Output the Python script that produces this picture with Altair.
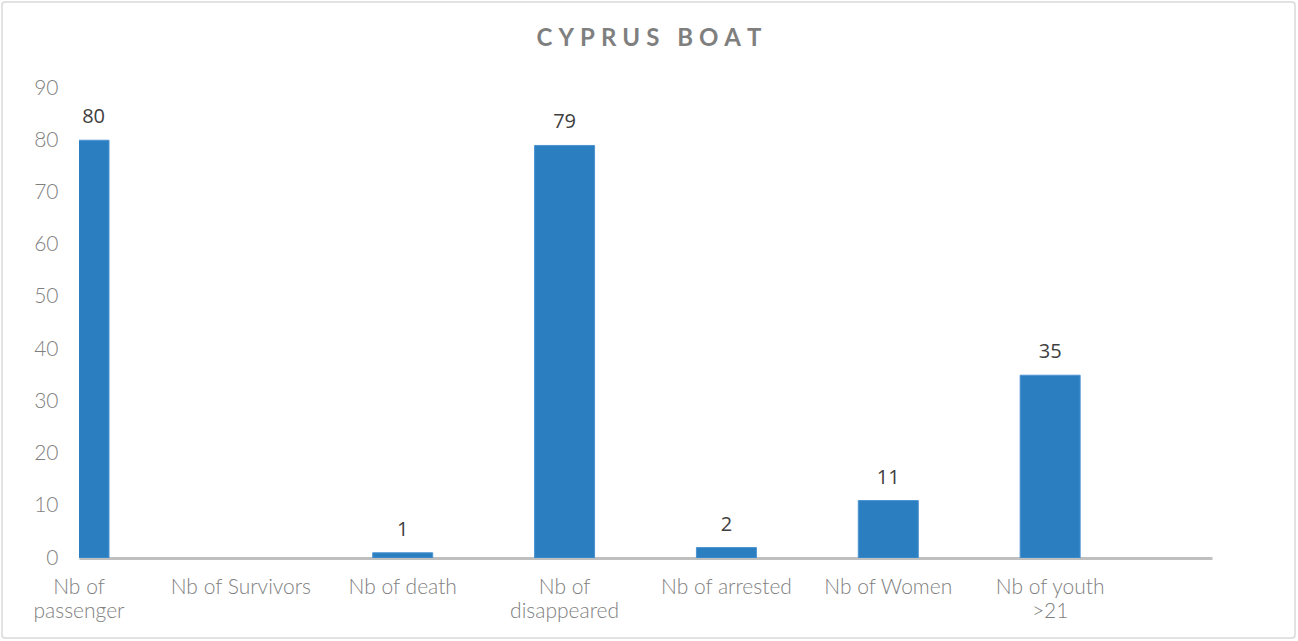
import altair as alt
import pandas as pd

categories = ["Nb of\npassenger", "Nb of Survivors", "Nb of death", "Nb of\ndisappeared",
              "Nb of arrested", "Nb of Women", "Nb of youth\n>21"]
values = [80, 0, 1, 79, 2, 11, 35]
y_ticks = [0, 10, 20, 30, 40, 50, 60, 70, 80, 90]
title_text = "CYPRUS BOAT"

W, H = 1133, 470

df = pd.DataFrame({"idx": list(range(len(categories))), "cat": categories, "val": values})

base = alt.Chart(df)

x_scale = alt.Scale(domain=[0, 7], nice=False, zero=False, padding=0)
y_scale = alt.Scale(domain=[0, 90], nice=False)

bars = base.transform_filter("datum.val > 0").mark_bar(
    size=60, clip=True, color="#2b7fc1", stroke="#4d93d1", strokeWidth=1
).encode(
    x=alt.X("idx:Q", scale=x_scale,
            axis=alt.Axis(title=None, labels=False, ticks=False, grid=False,
                          domainColor="#bfbfbf", domainWidth=3, values=[0, 7])),
    y=alt.Y("val:Q", scale=y_scale,
            axis=alt.Axis(title=None, values=y_ticks, grid=False, ticks=False, domain=False,
                          labelFont="Lato", labelFontWeight=300, labelFontSize=21,
                          labelColor="#7f7f7f", labelPadding=21)),
)

vlabels = base.transform_filter("datum.val > 0").transform_calculate(
    lx="datum.idx == 0 ? 0.09 : datum.idx"
).mark_text(font="Open Sans", fontSize=20, color="#404040", baseline="alphabetic", dy=-17).encode(
    x=alt.X("lx:Q", scale=x_scale),
    y=alt.Y("val:Q", scale=y_scale),
    text=alt.Text("val:Q"),
)

xlabels = base.mark_text(font="Lato", fontWeight=300, fontSize=21, color="#7f7f7f",
                         baseline="top", lineBreak="\n", lineHeight=24).encode(
    x=alt.X("idx:Q", scale=x_scale),
    y=alt.value(H + 19),
    text="cat:N",
)

title = alt.Chart(pd.DataFrame({"t": ["\u2005".join(list(title_text))]})).mark_text(
    font="Lato", fontWeight="bold", fontSize=24, color="#7f7f7f", baseline="middle"
).encode(x=alt.value(570), y=alt.value(-49), text="t:N")

border = alt.Chart(pd.DataFrame({"a": [0]})).mark_rect(
    fill=None, stroke="#d9d9d9", strokeWidth=1.5, cornerRadius=3, clip=False
).encode(x=alt.value(-77), x2=alt.value(1216), y=alt.value(-86), y2=alt.value(550))

chart = alt.layer(border, bars, vlabels, xlabels, title).properties(
    width=W, height=H,
    background="white",
    autosize=alt.AutoSizeParams(type="none"),
    padding={"left": 79, "top": 88, "right": 86, "bottom": 83},
).configure_view(stroke=None, strokeWidth=0)

chart.save("out.html", embed_options={"renderer": "svg", "actions": False})
